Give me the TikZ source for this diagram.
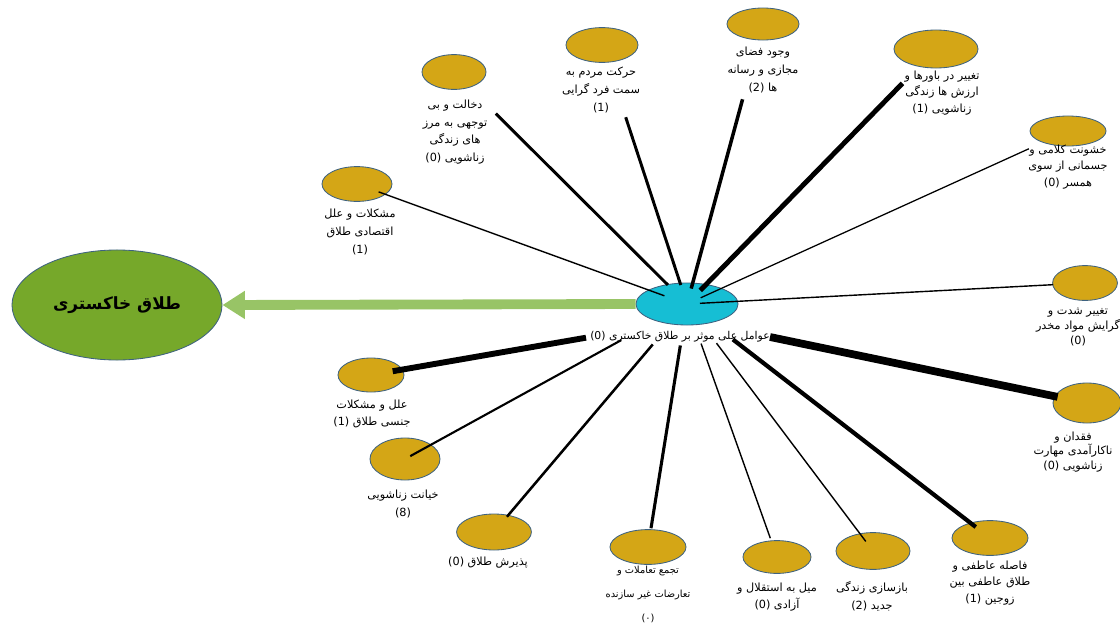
\documentclass[tikz,border=0pt]{standalone}
\usepackage{fontspec}
\usetikzlibrary{shapes.geometric,arrows.meta}
\TeXXeTstate=1
\newfontfamily\farsifont[Script=Arabic]{DejaVu Sans}
\definecolor{gold}{RGB}{212,166,22}
\definecolor{rim}{RGB}{62,98,128}
\definecolor{hubcyan}{RGB}{22,190,212}
\definecolor{leaf}{RGB}{118,168,42}
\definecolor{shaft}{RGB}{152,196,102}
\newcommand{\faline}[1]{\beginR #1\endR}
\newcommand{\fanum}[1]{\beginL(#1)\endL{}}
\tikzset{
  factor/.style={ellipse, draw=rim, line width=0.6pt, fill=gold, inner sep=0pt,
    minimum width=1.75cm, minimum height=0.87cm},
  lbl/.style={align=center, inner sep=0pt, font={\farsifont\fontsize{8}{12.5}\selectfont}}
}
\begin{document}
\begin{tikzpicture}[x=0.025cm, y=-0.025cm]
        \def \u {0.025cm}
        \useasboundingbox (0,0) rectangle (1120,625);
        % result and hub
        \node[ellipse, draw=rim, line width=0.6pt, fill=leaf, minimum width=5.25cm, minimum height=2.75cm,
          font={\farsifont\bfseries\fontsize{12}{14}\selectfont}] (big) at (117,305) {\faline{طلاق خاکستری}};
        \node[ellipse, draw=rim, line width=0.6pt, fill=hubcyan, minimum width=2.55cm, minimum height=1.05cm] (hub) at (687,304) {};
        \node[lbl, font={\farsifont\fontsize{7.7}{12}\selectfont}] (hl) at (680,337) {\faline{عوامل علی موثر بر طلاق خاکستری \fanum{0}}};
        % factors
        \node[factor, minimum width=1.6cm] (1) at (454,72) {};
        \node[factor] (2) at (357,184) {};
        \node[factor, minimum width=1.8cm] (3) at (602,45) {};
        \node[factor, minimum width=1.8cm, minimum height=0.8cm] (4) at (763,24) {};
        \node[factor, minimum width=2.1cm, minimum height=0.95cm] (5) at (936,49) {};
        \node[factor, minimum width=1.9cm, minimum height=0.75cm] (6) at (1068,131) {};
        \node[factor, minimum width=1.62cm] (7) at (1085,283) {};
        \node[factor, minimum width=1.7cm, minimum height=1cm] (8) at (1087,403) {};
        \node[factor, minimum width=1.9cm] (9) at (990,538) {};
        \node[factor, minimum width=1.85cm, minimum height=0.92cm] (10) at (873,551) {};
        \node[factor, minimum width=1.7cm, minimum height=0.82cm] (11) at (777,557) {};
        \node[factor, minimum width=1.9cm] (12) at (648,547) {};
        \node[factor, minimum width=1.87cm, minimum height=0.9cm] (13) at (494,532) {};
        \node[factor, minimum height=1.05cm] (14) at (405,459) {};
        \node[factor, minimum width=1.65cm, minimum height=0.85cm] (15) at (371,375) {};
        % labels
        \node[lbl] (l1) at (455,132) {\faline{دخالت و بی}\\\faline{توجهی به مرز}\\\faline{های زندگی}\\\faline{زناشویی \fanum{0}}};
        \node[lbl] (l2) at (360,232) {\faline{مشکلات و علل}\\\faline{اقتصادی طلاق}\\\faline{\fanum{1}}};
        \node[lbl] (l3) at (601,90) {\faline{حرکت مردم به}\\\faline{سمت فرد گرایی}\\\faline{\fanum{1}}};
        \node[lbl] (l4) at (763,70) {\faline{وجود فضای}\\\faline{مجازی و رسانه}\\\faline{ها \fanum{2}}};
        \node[lbl, font={\farsifont\fontsize{8}{11.5}\selectfont}] (l5) at (942,93) {\faline{تغییر در باورها و}\\\faline{ارزش ها زندگی}\\\faline{زناشویی \fanum{1}}};
        \node[lbl, font={\farsifont\fontsize{8}{12}\selectfont}] (l6) at (1068,167) {\faline{خشونت کلامی و}\\\faline{جسمانی از سوی}\\\faline{همسر \fanum{0}}};
        \node[lbl, font={\farsifont\fontsize{8}{10.5}\selectfont}] (l7) at (1078,327) {\faline{تغییر شدت و}\\\faline{گرایش مواد مخدر}\\\faline{\fanum{0}}};
        \node[lbl, font={\farsifont\fontsize{8}{10.5}\selectfont}] (l8) at (1073,452) {\faline{فقدان و}\\\faline{ناکارآمدی مهارت}\\\faline{زناشویی \fanum{0}}};
        \node[lbl, font={\farsifont\fontsize{8}{11.5}\selectfont}] (l9) at (990,583) {\faline{فاصله عاطفی و}\\\faline{طلاق عاطفی بین}\\\faline{زوجین \fanum{1}}};
        \node[lbl] (l10) at (872,596) {\faline{بازسازی زندگی}\\\faline{جدید \fanum{2}}};
        \node[lbl] (l11) at (777,597) {\faline{میل به استقلال و}\\\faline{آزادی \fanum{0}}};
        \node[lbl, font={\farsifont\fontsize{7}{17}\selectfont}] (l12) at (648,594) {\faline{تجمع تعاملات و}\\\faline{تعارضات غیر سازنده}\\\faline{\fanum{۰}}};
        \node[lbl] (l13) at (488,563) {\faline{پذیرش طلاق \fanum{0}}};
        \node[lbl] (l14) at (403,504) {\faline{خیانت زناشویی}\\\faline{\fanum{8}}};
        \node[lbl] (l15) at (372,414) {\faline{علل و مشکلات}\\\faline{جنسی طلاق \fanum{1}}};
        % connectors
        \draw[shaft, line width=7pt, -{Triangle[length=16pt, width=19pt]}] (hub.west) -- (big.east);
        \draw[line width=2.1pt, shorten <=59*\u, shorten >=27*\u] (1.center) -- (hub.center);
        \draw[line width=1pt, shorten <=23*\u, shorten >=24*\u] (2.center) -- (hub.center);
        \draw[line width=2.1pt, shorten <=76*\u, shorten >=20*\u] (3.center) -- (hub.center);
        \draw[line width=2.5pt, shorten <=78*\u, shorten >=16*\u] (4.center) -- (hub.center);
        \draw[line width=3.5pt, shorten <=48*\u, shorten >=19*\u] (5.center) -- (hub.center);
        \draw[line width=0.9pt, shorten <=43*\u, shorten >=15*\u] (6.center) -- (hub.center);
        \draw[line width=1pt, shorten <=32*\u, shorten >=13*\u] (7.center) -- (hub.center);
        \draw[line width=5.5pt, shorten <=30*\u] (8.center) -- (hl.east);
        \draw[line width=3pt, shorten <=18*\u, shorten >=58*\u] (9.center) -- (hub.center);
        \draw[line width=1pt, shorten <=12*\u, shorten >=49*\u] (10.center) -- (hub.center);
        \draw[line width=1pt, shorten <=20*\u, shorten >=42*\u] (11.center) -- (hub.center);
        \draw[line width=2.2pt, shorten <=19*\u, shorten >=42*\u] (12.center) -- (hub.center);
        \draw[line width=1.8pt, shorten <=20*\u, shorten >=53*\u] (13.center) -- (hub.center);
        \draw[line width=1.5pt, shorten <=6*\u, shorten >=75*\u] (14.center) -- (hub.center);
        \draw[line width=4.2pt, shorten <=22*\u, shorten >=4*\u] (15.center) -- (hl.west);
    \end{tikzpicture}
\end{document}
